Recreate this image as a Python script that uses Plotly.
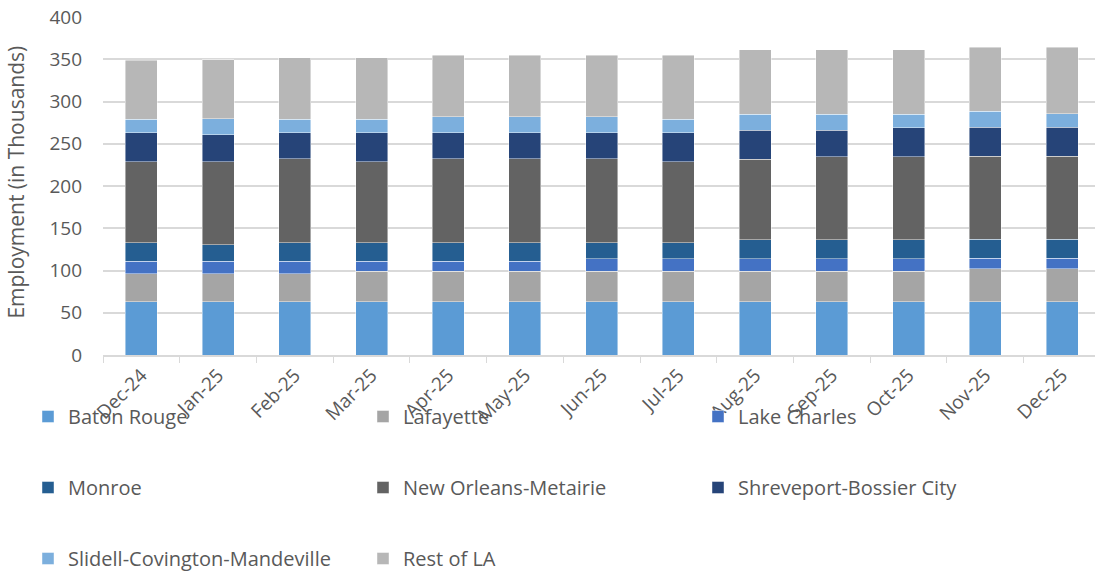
import plotly.graph_objects as go

# Monthly employment by metro area (thousands)
months = ["Dec-24", "Jan-25", "Feb-25", "Mar-25", "Apr-25", "May-25", "Jun-25",
          "Jul-25", "Aug-25", "Sep-25", "Oct-25", "Nov-25", "Dec-25"]

baton_rouge = [63, 63, 63, 63, 63, 63, 63, 63, 63, 63, 63, 63, 63]
lafayette = [33, 33, 33, 36, 36, 36, 36, 36, 36, 36, 36, 39, 39]
lake_charles = [15, 15, 15, 12, 12, 12, 15, 15, 15, 15, 15, 12.5, 12.5]
monroe = [22, 19.5, 22, 22, 22, 22, 19, 19, 22.5, 22.5, 22.5, 22.5, 22.5]
new_orleans = [96, 98, 99, 96, 99, 99, 99, 96, 95, 98, 98, 98, 98]
shreveport = [34, 32, 31, 34, 31, 31, 31, 34, 34.5, 31.5, 34.5, 34.5, 34.5]
slidell = [16, 19, 16, 16, 19, 19, 19, 16, 19, 19, 16, 19, 16]
rest_of_la = [70, 70, 73, 73, 73, 73, 73, 76, 76, 76, 76, 76, 79]

# name, values, colour, legend column
series = [
    ("Baton Rouge", baton_rouge, "#5B9BD5", "legend"),
    ("Lafayette", lafayette, "#A5A5A5", "legend2"),
    ("Lake Charles", lake_charles, "#4472C4", "legend3"),
    ("Monroe", monroe, "#255E91", "legend"),
    ("New Orleans-Metairie", new_orleans, "#636363", "legend2"),
    ("Shreveport-Bossier City", shreveport, "#264478", "legend3"),
    ("Slidell-Covington-Mandeville", slidell, "#7CAFDD", "legend"),
    ("Rest of LA", rest_of_la, "#B7B7B7", "legend2"),
]

FONT = "Open Sans"
TEXT = "#595959"
GRID = "#D9D9D9"

fig = go.Figure()
for name, vals, color, leg in series:
    fig.add_trace(go.Bar(
        x=months, y=vals, name=name, legend=leg, legendgroup=name,
        marker=dict(color=color, line=dict(color="rgba(255,255,255,0.55)", width=0.8)),
    ))

# three legend columns, one entry per row
legend_style = dict(
    orientation="v", xref="container", yref="container",
    xanchor="left", yanchor="top", y=1 - 397 / 571,
    traceorder="grouped", tracegroupgap=42,
    font=dict(family=FONT, size=20, color=TEXT), bgcolor="rgba(0,0,0,0)",
)

fig.update_layout(
    width=1095, height=571,
    barmode="stack", bargap=0.583,
    paper_bgcolor="white", plot_bgcolor="white",
    margin=dict(l=103, r=0, t=17, b=216, autoexpand=False),
    font=dict(family=FONT, size=19, color=TEXT),
    legend=dict(legend_style, x=28 / 1095),
    legend2=dict(legend_style, x=363 / 1095),
    legend3=dict(legend_style, x=698 / 1095),
    xaxis=dict(
        range=[-0.5, 12.43], tickangle=-45, showline=True, linecolor=GRID, linewidth=1.5,
        ticks="outside", tickson="boundaries", ticklen=6, tickcolor=GRID,
        tickfont=dict(family=FONT, size=19, color=TEXT), showgrid=False,
    ),
    yaxis=dict(
        range=[0, 400], dtick=50, showgrid=True, gridcolor=GRID, gridwidth=1.5,
        zeroline=False, ticks="", ticklabelstandoff=20,
        tickfont=dict(family=FONT, size=19, color=TEXT),
    ),
    annotations=[dict(
        text="Employment (in Thousands)", textangle=-90,
        xref="paper", yref="paper", x=(16 - 103) / 992, y=0.51,
        xanchor="center", yanchor="middle", showarrow=False,
        font=dict(family=FONT, size=21, color=TEXT),
    )],
)

fig.write_html("out.html")
